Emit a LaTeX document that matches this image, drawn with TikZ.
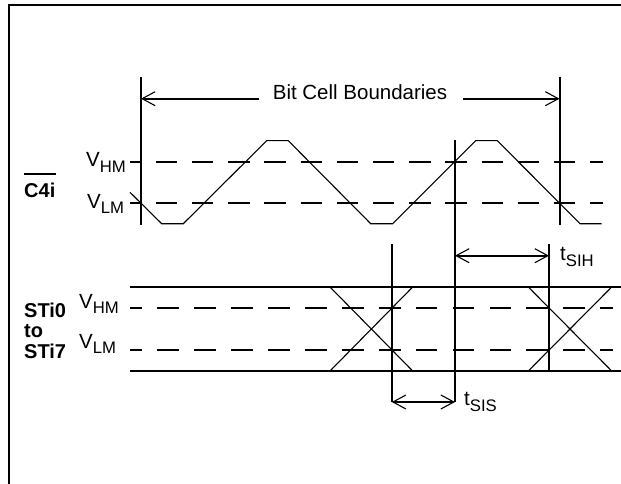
\documentclass[tikz,border=0pt]{standalone}
\usepackage{fontspec}
\setmainfont{Liberation Sans}
\usetikzlibrary{arrows.meta}
\newcommand{\volt}[2]{#1\raisebox{-5.5pt}{\fontsize{16.7}{18}\selectfont #2}}
\tikzset{
  barb/.tip={Straight Barb[length=13pt,width=14pt,line width=1.1pt]},
  thick line/.style={line width=2pt},
  thin line/.style={line width=1.1pt},
  level line/.style={line width=2pt, dash pattern=on 21.5pt off 14.7pt, dash phase=10.5pt},
  data level/.style={level line, dash pattern=on 21.7pt off 15.2pt, dash phase=9.5pt},
  dim line/.style={line width=1.8pt},
  lab/.style={inner sep=0pt, anchor=base west, font=\fontsize{20.5}{22}\selectfont},
  sig/.style={inner sep=0pt, anchor=base west, font=\fontsize{20}{20.5}\selectfont\bfseries, align=left},
}
\begin{document}
\begin{tikzpicture}[x=1pt,y=-1pt]
      \useasboundingbox (0,0) rectangle (621,484);

      % frame
      \coordinate (fb) at (8.7,484);
      \coordinate (fc) at (8.7,5);
      \coordinate (fr) at (621,5);
      \draw[thick line] (fb) -- (fc) -- (fr);

      % clock
      \node[lab, anchor=base] (bits) at (360,100) {Bit Cell Boundaries};
      \node[lab] (vhm1) at (86,166.7) {\volt{V}{HM}};
      \node[lab] (vlm1) at (87,208) {\volt{V}{LM}};
      \node[sig] (c4i) at (24,197) {C4i};
      \draw[thick line] ([yshift=8pt]c4i.north west) -- ([yshift=8pt]c4i.north east);

      \coordinate (b1t) at (141,77);
      \coordinate (b1b) at (141,225);
      \coordinate (b2t) at (559.5,77);
      \coordinate (b2b) at (559.5,225);
      \draw[thick line] (b1t) -- (b1b);
      \draw[thick line] (b2t) -- (b2b);

      \coordinate (a1) at (141,98.7);
      \coordinate (a2) at (259,98.7);
      \coordinate (a3) at (463,98.7);
      \coordinate (a4) at (559.5,98.7);
      \draw[dim line, -barb] (a2) -- (a1);
      \draw[dim line, -barb] (a3) -- (a4);

      \coordinate (h1) at (130,161.7);
      \coordinate (h2) at (603,161.7);
      \coordinate (l1) at (130,203);
      \coordinate (l2) at (603,203);
      \draw[level line] (h1) -- (h2);
      \draw[level line] (l1) -- (l2);

      \draw[thin line] (130,192.3) -- (161.7,223.7) -- (183.3,223.7) -- (266.7,140.7)
        -- (288.3,140.7) -- (370.7,223.7) -- (392.7,223.7) -- (475.7,140.7)
        -- (497.3,140.7) -- (580,223.7) -- (601.7,223.7);

      % data
      \node[sig] (sti) at (24,358) {STi0\\to\\STi7};
      \node[lab] (vhm2) at (79,308) {\volt{V}{HM}};
      \node[lab] (vlm2) at (79,348) {\volt{V}{LM}};

      \coordinate (r1) at (130,287);
      \coordinate (r2) at (621,287);
      \coordinate (r3) at (130,371);
      \coordinate (r4) at (621,371);
      \draw[thick line] (r1) -- (r2);
      \draw[thick line] (r3) -- (r4);

      \coordinate (h3) at (130,307.7);
      \coordinate (h4) at (613,307.7);
      \coordinate (l3) at (130,349.7);
      \coordinate (l4) at (613,349.7);
      \draw[data level] (h3) -- (h4);
      \draw[data level] (l3) -- (l4);

      \draw[thin line] (330,287) -- (412.7,371);
      \draw[thin line] (330,371) -- (412.7,287);
      \draw[thin line] (528.3,287) -- (611.7,371);
      \draw[thin line] (528.3,371) -- (611.7,287);

      % timing
      \coordinate (s1) at (391.8,244);
      \coordinate (s2) at (391.8,402);
      \coordinate (s3) at (455,140);
      \coordinate (s4) at (455,402);
      \coordinate (s5) at (549,244);
      \coordinate (s6) at (549,371);
      \coordinate (s7) at (455,255.7);
      \coordinate (s8) at (549,255.7);
      \draw[thick line] (s1) -- (s2);
      \draw[thick line] (s3) -- (s4);
      \draw[thick line] (s5) -- (s6);
      \draw[dim line, barb-barb] (s7) -- (s8);
      \draw[dim line, barb-barb] (s2) -- (s4);

      \node[lab] (tsih) at (560,260.5) {\volt{t}{SIH}};
      \node[lab] (tsis) at (464,405.5) {\volt{t}{SIS}};
\end{tikzpicture}
\end{document}
